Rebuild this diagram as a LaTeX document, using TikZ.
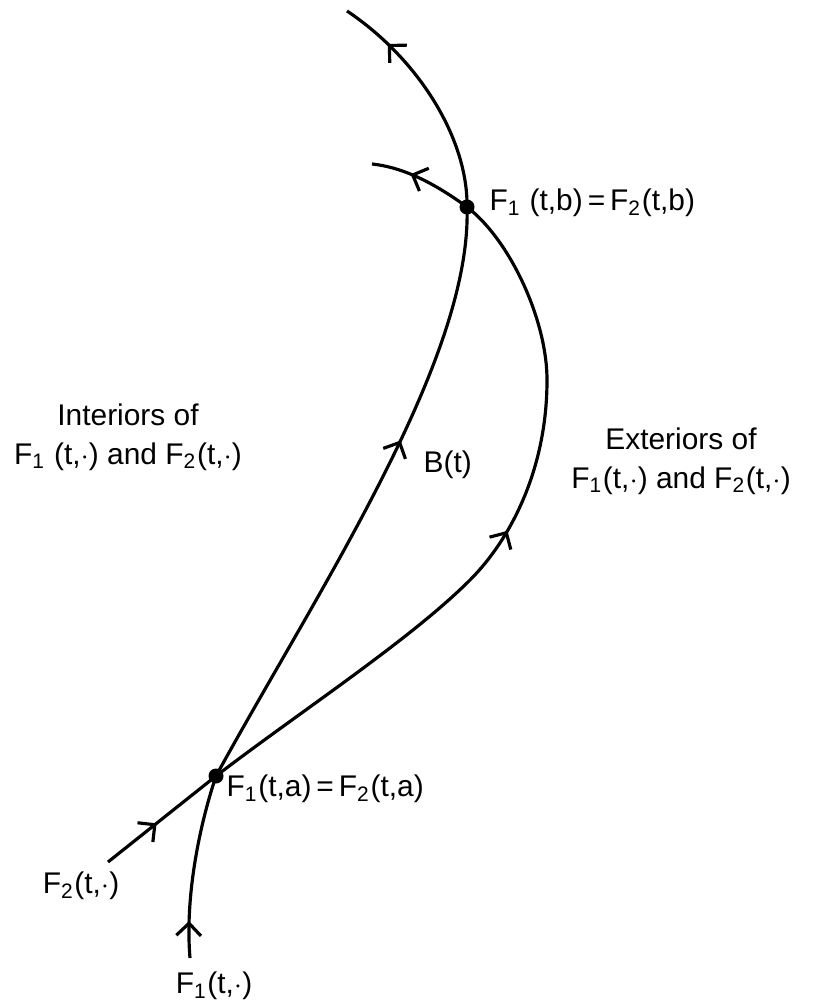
\documentclass[tikz,border=0pt]{standalone}
\usepackage{fontspec}
\setmainfont{Liberation Sans}
\usetikzlibrary{arrows.meta,decorations.markings}

\begin{document}
\begin{tikzpicture}[x=0.01cm,y=-0.01cm,
    curve/.style={line width=0.9pt},
    marr/.style={postaction={decorate,decoration={markings,
        mark=at position #1 with {\arrow{Straight Barb[length=3.5pt,width=7pt]}}}}},
    dot/.style={circle, fill=black, inner sep=0pt, minimum size=0.15cm},
    lbl/.style={font=\fontsize{8.5}{11}\selectfont, inner sep=0pt, align=center}
]
\useasboundingbox (0,0) rectangle (837,1007);

\node[dot] (a) at (216,776) {};
\node[dot] (b) at (467,207) {};
\coordinate (f1s) at (190,958);
\coordinate (f1e) at (347,11);
\coordinate (f2s) at (108,862);
\coordinate (f2e) at (372,164);

% curve F1 (boundary B(t))
\draw[curve, marr=0.2] (f1s) .. controls (185,900) and (198,830) .. (a.center);
\draw[curve, marr=0.61] (a.center) .. controls (318,590) and (472,360) .. (b.center);
\draw[curve, marr=0.78] (b.center) .. controls (468,140) and (420,60) .. (f1e);

% curve F2
\draw[curve, marr=0.45] (f2s) -- (a.center);
\draw[curve, marr=0.52] (a.center) .. controls (301,711) and (410,640) .. (470,580)
    .. controls (510,540) and (547,470) .. (547,380)
    .. controls (547,320) and (510,240) .. (b.center);
\draw[curve, marr=0.62] (b.center) .. controls (430,180) and (400,167) .. (f2e);

\node[lbl, anchor=west] (lb) at (489,203) {F\textsubscript{1} (t,b)\,=\,F\textsubscript{2}(t,b)};
\node[lbl, anchor=west] (la) at (226,789) {F\textsubscript{1}(t,a)\,=\,F\textsubscript{2}(t,a)};
\node[lbl, anchor=west] (bt) at (423,465) {B(t)};
\node[lbl] (inter) at (128,437) {Interiors of\\ F\textsubscript{1} (t,$\cdot$) and F\textsubscript{2}(t,$\cdot$)};
\node[lbl] (exter) at (681,461) {Exteriors of\\ F\textsubscript{1}(t,$\cdot$) and F\textsubscript{2}(t,$\cdot$)};
\node[lbl] (f2lbl) at (81,886) {F\textsubscript{2}(t,$\cdot$)};
\node[lbl] (f1lbl) at (214,986) {F\textsubscript{1}(t,$\cdot$)};
\end{tikzpicture}
\end{document}
